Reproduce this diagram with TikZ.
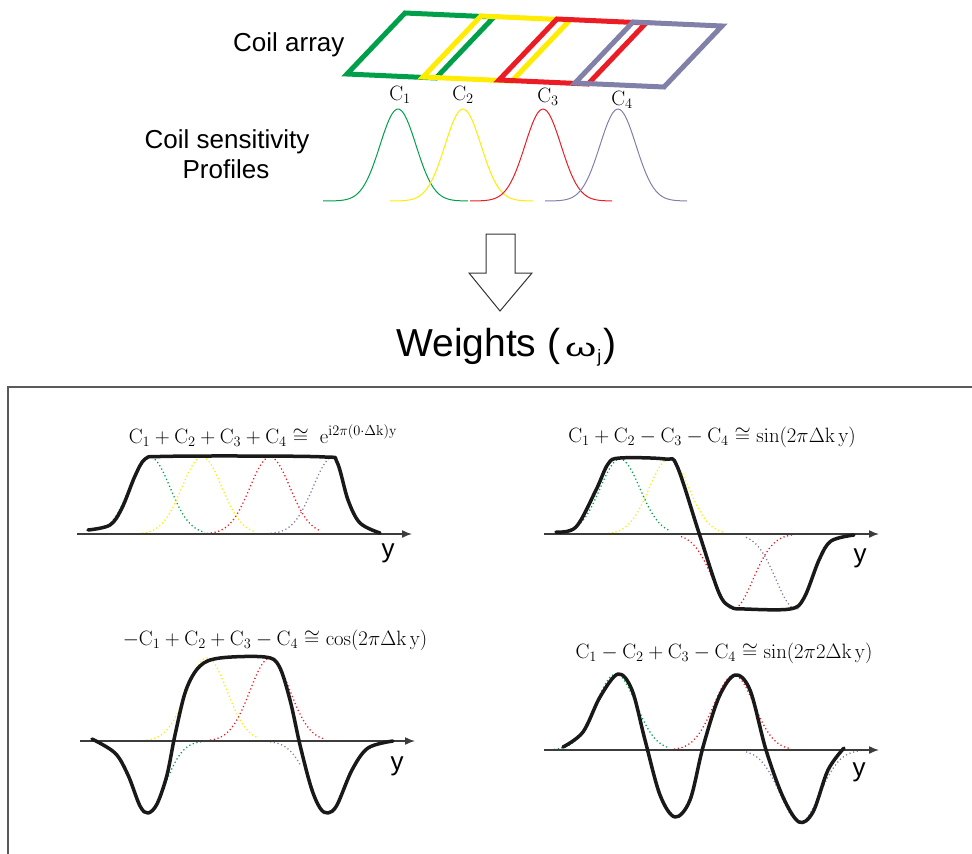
\documentclass[tikz,border=0pt]{standalone}
\usepackage[no-math]{fontspec}
\setmainfont{Liberation Sans}
\usetikzlibrary{arrows.meta}
\definecolor{cgreen}{RGB}{0,160,75}
\definecolor{cyellow}{RGB}{255,236,0}
\definecolor{cred}{RGB}{236,28,36}
\definecolor{cgray}{RGB}{128,128,168}
\definecolor{framegray}{RGB}{90,90,90}
\definecolor{axisgray}{RGB}{60,60,60}
\newcommand{\gaus}[7]{\draw[#1] plot[domain=#6:#7,samples=60] (\x,{#2-(#3)*exp(-0.5*(\x-#4)*(\x-#4)/(#5*#5))});}
\tikzset{
  coil/.style={line width=5pt, line join=miter},
  prof/.style={line width=1pt},
  dots/.style={line width=1.3pt, dash pattern=on 1.2pt off 2.6pt},
  wave/.style={line width=3.5pt, black!90, line cap=round, line join=round},
  axisline/.style={line width=1.5pt, axisgray, -{Latex[length=10pt,width=8pt]}},
  lbl/.style={font=\fontsize{26}{30}\selectfont, inner sep=0pt},
  ylbl/.style={font=\fontsize{26}{30}\selectfont, inner sep=0pt},
  frm/.style={font=\fontsize{20}{23}\selectfont, inner sep=0pt},
  clbl/.style={font=\fontsize{22}{24}\selectfont, inner sep=0pt}
}
\begin{document}
\begin{tikzpicture}[x=1pt,y=-1pt]
\useasboundingbox (0,0) rectangle (972,854);
% coil array
\draw[coil,cgreen]  (405,13) -- ++(89,4) -- ++(-58,61) -- ++(-89,-4) -- cycle;
\draw[coil,cyellow] (481,16) -- ++(89,4) -- ++(-58,61) -- ++(-89,-4) -- cycle;
\draw[coil,cred]    (557,19) -- ++(89,4) -- ++(-58,61) -- ++(-89,-4) -- cycle;
\draw[coil,cgray]   (633,22) -- ++(89,4) -- ++(-58,61) -- ++(-89,-4) -- cycle;
\node[lbl, anchor=base west] (coilarray) at (233,51) {Coil array};
\node[clbl] (c1) at (400,95) {$\mathrm{C}_1$};
\node[clbl] (c2) at (463,95) {$\mathrm{C}_2$};
\node[clbl] (c3) at (548,97) {$\mathrm{C}_3$};
\node[clbl] (c4) at (622,100) {$\mathrm{C}_4$};
% sensitivity profiles
\node[lbl, anchor=base] (sens1) at (227,148) {Coil sensitivity};
\node[lbl, anchor=base] (sens2) at (226,178) {Profiles};
\gaus{prof,cgreen}{201}{92}{398}{18}{323}{468}
\gaus{prof,cyellow}{201}{92}{463}{18}{390}{533}
\gaus{prof,cred}{201}{92}{543}{18}{470}{612}
\gaus{prof,cgray}{201}{92}{618}{18}{545}{687}
% block arrow
\draw[line width=1pt, black!80, line join=miter] (486,234) -- (515,234) -- (515,273) -- (532,273) -- (500,311) -- (469,273) -- (486,273) -- cycle;
\node[font=\fontsize{39}{44}\selectfont, inner sep=0pt, anchor=base west] (weights) at (396,356)
  {Weights ({\fontsize{25}{25}\selectfont\kern5pt\scalebox{1.6}[1]{ω}\kern1pt\raisebox{-6pt}{\fontsize{18}{18}\selectfont j}\kern2pt})};
% frame
\draw[line width=2pt, framegray] (8,860) -- (8,387) -- (980,387);

% ---------- panel 1 ----------
\node[frm, anchor=base] (f1) at (263,443) {$\mathrm{C}_1+\mathrm{C}_2+\mathrm{C}_3+\mathrm{C}_4\cong\ \mathrm{e}^{\mathrm{i}2\pi(0\cdot\Delta\mathrm{k})\mathrm{y}}$};
\gaus{dots,cgreen}{534}{77}{150}{20}{108}{205}
\gaus{dots,cyellow}{534}{77}{202}{20}{142}{256}
\gaus{dots,cred}{534}{77}{270}{20}{207}{321}
\gaus{dots,cgray}{534}{77}{333}{20}{267}{336}
\coordinate (a1s) at (77,534);
\coordinate (a1e) at (412,534);
\draw[axisline] (a1s) -- (a1e);
\node[ylbl] (y1) at (388,553) {y};
\draw[wave] plot[smooth, tension=0.55] coordinates {(88,530) (110,525) (122,508) (135,476) (145,459) (160,456.5) (240,456) (325,457) (337,462) (348,500) (360,523) (380,533)};

% ---------- panel 2 ----------
\node[frm, anchor=base] (f2) at (712,442) {$\mathrm{C}_1+\mathrm{C}_2-\mathrm{C}_3-\mathrm{C}_4\cong\sin(2\pi\Delta\mathrm{k}\,\mathrm{y})$};
\gaus{dots,cgreen}{534}{75}{620}{20}{575}{670}
\gaus{dots,cyellow}{534}{75}{669}{20}{608}{724}
\gaus{dots,cred}{534}{-75}{733}{20}{681}{794}
\gaus{dots,cgray}{534}{-75}{796}{20}{746}{800}
\coordinate (a2s) at (544,534);
\coordinate (a2e) at (879,534);
\draw[axisline] (a2s) -- (a2e);
\node[ylbl] (y2) at (860,558) {y};
\draw[wave] plot[smooth, tension=0.55] coordinates {(556,532) (576,527) (596,490) (608,464) (620,458) (665,459) (677,466) (699,533) (719,593) (731,607) (745,609) (790,609) (804,598) (819,560) (831,541) (854,535)};

% ---------- panel 3 ----------
\node[frm, anchor=base] (f3) at (275,645) {$-\mathrm{C}_1+\mathrm{C}_2+\mathrm{C}_3-\mathrm{C}_4\cong\cos(2\pi\Delta\mathrm{k}\,\mathrm{y})$};
\gaus{dots,cyellow}{741}{83}{207}{20}{143}{258}
\gaus{dots,cred}{741}{83}{270}{20}{210}{324}
\gaus{dots,cgreen}{741}{-72}{147}{18}{145}{208}
\gaus{dots,cgray}{741}{-72}{330}{20}{270}{300}
\coordinate (a3s) at (80,741);
\coordinate (a3e) at (415,741);
\draw[axisline] (a3s) -- (a3e);
\node[ylbl] (y3) at (397,766) {y};
\draw[wave] plot[smooth, tension=0.55] coordinates {(92,739) (115,753) (128,775) (140,806) (148,813) (157,804) (167,775) (175,735) (186,690) (200,666) (220,658) (265,657) (279,666) (290,700) (300,745) (311,787) (320,808) (328,813) (337,805) (352,770) (368,748) (393,741)};

% ---------- panel 4 ----------
\node[frm, anchor=base] (f4) at (724,658) {$\mathrm{C}_1-\mathrm{C}_2+\mathrm{C}_3-\mathrm{C}_4\cong\sin(2\pi2\Delta\mathrm{k}\,\mathrm{y})$};
\gaus{dots,cgreen}{750}{76}{616}{20}{554}{668}
\gaus{dots,cred}{750}{75}{734}{20}{674}{790}
\gaus{dots,cgray}{750}{-72}{800}{20}{746}{861}
\coordinate (a4s) at (544,750);
\coordinate (a4e) at (879,750);
\draw[axisline] (a4s) -- (a4e);
\node[ylbl] (y4) at (859,772) {y};
\draw[wave] plot[smooth, tension=0.55] coordinates {(563,747) (583,732) (600,697) (618,674) (632,690) (645,740) (660,795) (675,817) (690,800) (703,747) (719,697) (735,675) (750,690) (766,750) (783,797) (799,822) (813,812) (828,770) (844,748)};
\end{tikzpicture}
\end{document}
